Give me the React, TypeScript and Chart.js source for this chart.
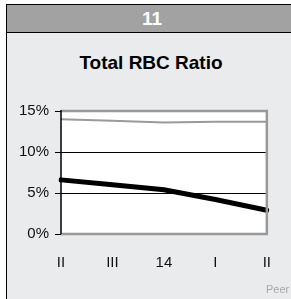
import React, { useEffect, useRef } from "react";
import { Chart, registerables } from "chart.js";

Chart.register(...registerables);

const headerText = "11";
const titleText = "Total RBC Ratio";
const footerText = "Peer";
const categories = ["II", "III", "14", "I", "II"];
const peerSeries = [14.0, 13.8, 13.6, 13.7, 13.7];
const bankSeries = [6.6, 6.0, 5.4, 4.2, 2.9];
const yTicks = [0, 5, 10, 15];

const FONT = "'Liberation Sans', Arial, Helvetica, sans-serif";

const plotFrame = {
  id: "plotFrame",
  beforeDatasetsDraw(chart: any) {
    const { ctx, chartArea: a } = chart;
    ctx.save();
    ctx.fillStyle = "#ffffff";
    ctx.fillRect(a.left, a.top, a.right - a.left, a.bottom - a.top);
    const ys = chart.scales.y;
    ctx.strokeStyle = "#000";
    ctx.lineWidth = 1;
    [5, 10].forEach((v) => {
      const y = Math.round(ys.getPixelForValue(v)) + 0.5;
      ctx.beginPath();
      ctx.moveTo(a.left, y);
      ctx.lineTo(a.right, y);
      ctx.stroke();
    });
    ctx.restore();
  },
  afterDatasetsDraw(chart: any) {
    const { ctx, chartArea: a } = chart;
    ctx.save();
    ctx.strokeStyle = "#999999";
    ctx.lineWidth = 2.5;
    ctx.beginPath();
    ctx.moveTo(a.left, a.top);
    ctx.lineTo(a.right, a.top);
    ctx.lineTo(a.right, a.bottom);
    ctx.lineTo(a.left, a.bottom);
    ctx.stroke();
    ctx.strokeStyle = "#000";
    ctx.lineWidth = 1.5;
    ctx.beginPath();
    ctx.moveTo(a.left, a.top - 1);
    ctx.lineTo(a.left, a.bottom);
    ctx.stroke();
    const ys = chart.scales.y;
    ctx.lineWidth = 1;
    yTicks.forEach((v) => {
      const y = Math.round(ys.getPixelForValue(v)) + 0.5;
      ctx.beginPath();
      ctx.moveTo(a.left - 6, y);
      ctx.lineTo(a.left, y);
      ctx.stroke();
    });
    ctx.restore();
  },
};

function ChartPanel() {
  const ref = useRef<HTMLCanvasElement | null>(null);
  useEffect(() => {
    if (!ref.current) return;
    const chart = new Chart(ref.current, {
      type: "line",
      data: {
        labels: categories,
        datasets: [
          {
            label: "Peer",
            data: peerSeries,
            borderColor: "#9a9a9a",
            borderWidth: 2,
            pointRadius: 0,
            tension: 0,
          },
          {
            label: "Bank",
            data: bankSeries,
            borderColor: "#000000",
            borderWidth: 5,
            pointRadius: 0,
            tension: 0,
            borderCapStyle: "round",
          },
        ],
      },
      options: {
        animation: false,
        responsive: false,
        maintainAspectRatio: false,
        layout: { padding: { top: 21, right: 22, left: 0, bottom: 0 } },
        plugins: { legend: { display: false }, tooltip: { enabled: false } },
        scales: {
          x: {
            offset: false,
            grid: { display: false, drawTicks: false },
            border: { display: false },
            ticks: {
              color: "#111",
              font: { family: FONT, size: 15 },
              padding: 20,
              maxRotation: 0,
              autoSkip: false,
            },
            afterFit: (s: any) => {
              s.height = 56;
            },
          },
          y: {
            min: 0,
            max: 15,
            grid: { display: false, drawTicks: false },
            border: { display: false },
            afterBuildTicks: (s: any) => {
              s.ticks = yTicks.map((v) => ({ value: v }));
            },
            ticks: {
              color: "#111",
              font: { family: FONT, size: 15 },
              padding: 12,
              callback: (v: any) => v + "%",
            },
            afterFit: (s: any) => {
              s.width = 61;
            },
          },
        },
      },
      plugins: [plotFrame],
    });
    return () => chart.destroy();
  }, []);
  return (
    <canvas
      ref={ref}
      width={291}
      height={200}
      style={{ position: "absolute", left: 0, top: 90, width: 291, height: 200 }}
    />
  );
}

export default function App() {
  return (
    <div
      style={{
        position: "fixed",
        left: 0,
        top: 0,
        width: 291,
        height: 299,
        background: "#ffffff",
        overflow: "hidden",
        fontFamily: FONT,
      }}
    >
      <div
        style={{
          position: "absolute",
          left: 6,
          top: 4,
          width: 290,
          height: 300,
          background: "#eaebec",
          borderLeft: "1.5px solid #000",
          borderTop: "1.5px solid #000",
          boxSizing: "border-box",
        }}
      />
      <div
        style={{
          position: "absolute",
          left: 7,
          top: 5,
          width: 290,
          height: 27,
          background: "#a2a2a2",
          borderBottom: "1.5px solid #000",
          color: "#fff",
          fontWeight: "bold",
          fontSize: 19,
          lineHeight: "27px",
          textAlign: "center",
        }}
      >
        {headerText}
      </div>
      <div
        style={{
          position: "absolute",
          left: 6,
          top: 50,
          width: 290,
          textAlign: "center",
          fontWeight: "bold",
          fontSize: 19,
          lineHeight: "26px",
          color: "#000",
        }}
      >
        {titleText}
      </div>
      <ChartPanel />
      <div
        style={{
          position: "absolute",
          left: 266,
          top: 283,
          fontSize: 11,
          color: "#a8a8a8",
          whiteSpace: "nowrap",
        }}
      >
        {footerText}
      </div>
    </div>
  );
}
